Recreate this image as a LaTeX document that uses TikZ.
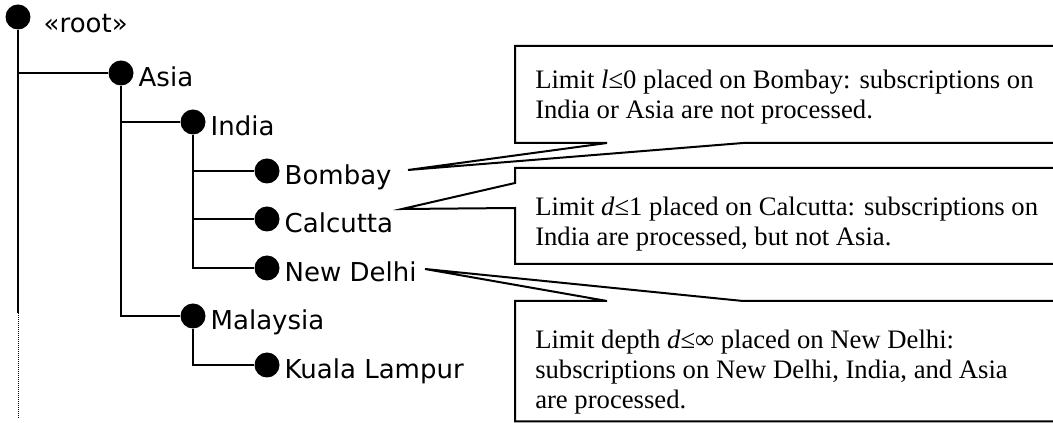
\documentclass[tikz,border=0pt]{standalone}
\usepackage{fontspec}
\setmainfont{Liberation Serif}
\newfontfamily\treefont{DejaVu Sans}
\usepackage{tikz}
\usetikzlibrary{calc}
\tikzset{x=0.75pt, y=-0.75pt}
\tikzset{dot/.style = {circle, fill=black, inner sep=0pt, minimum size=18.75pt}}
\tikzset{placename/.style = {font=\treefont\fontsize{19.5pt}{23pt}\selectfont, anchor=base west, inner sep=3.5pt, yshift=-10pt}}
\tikzset{branch/.style = {line width=1.5pt}}
\tikzset{callout/.style = {draw=black, fill=white, line width=1.5pt, line join=miter}}
\tikzset{note/.style = {font=\fontsize{20pt}{22.5pt}\selectfont, anchor=base west, inner sep=0pt, align=left}}
\newcommand{\geoplace}[4][]{
   \node[dot] (#2) at (#3) {};
   \node[placename, #1] (#2-name) at (#2.east) {#4};
}

\begin{document}
\begin{tikzpicture}
		\useasboundingbox (0,0) rectangle (1053,423);
		\clip (0,0) rectangle (1053,423);

		% Places
		\geoplace[xshift=6pt, yshift=-1.5pt]{root}{18,17}{«root»}
		\geoplace{asia}{121,73}{Asia}
		\geoplace{india}{193,122}{India}
		\geoplace{bombay}{267,171}{Bombay}
		\geoplace{calcutta}{267,219}{Calcutta}
		\geoplace{newdelhi}{267,268}{New Delhi}
		\geoplace{malaysia}{193,316}{Malaysia}
		\geoplace{kuala}{267,365}{Kuala Lampur}

		% Branches
		\coordinate (root-end) at (18,313);
		\coordinate (root-foot) at (18,419);
		\draw[branch] (root) -- (root-end);
		\draw[line width=0.75pt, dash pattern=on 0.75pt off 0.75pt] (root-end) -- (root-foot);
		\foreach \from/\to in {root/asia, asia/india, asia/malaysia, india/bombay, india/calcutta, india/newdelhi, malaysia/kuala}
		{
			\draw[branch] (\from) |- (\to);
		}

		% Callouts
		\coordinate (bombay-tip) at (408,170);
		\coordinate (calcutta-tip) at (402,209);
		\coordinate (newdelhi-tip) at (425,269);
		%
		\draw[callout] (515,46) -- (1065,46) -- (1065,143) -- (743,143) -- (bombay-tip) -- (607,143) -- (515,143) -- cycle;
		\node[note] (limit-bombay) at (535,119) {Limit \textit{l}≤0 placed on Bombay: subscriptions on\\India or Asia are not processed.};
		%
		\draw[callout] (515,168) -- (1065,168) -- (1065,264) -- (515,264) -- (515,208) -- (calcutta-tip) -- (515,183) -- cycle;
		\node[note] (limit-calcutta) at (535,246) {Limit \textit{d}≤1 placed on Calcutta: subscriptions on\\India are processed, but not Asia.};
		%
		\draw[callout] (515,301) -- (607,301) -- (newdelhi-tip) -- (743,301) -- (1065,301) -- (1065,421.5) -- (515,421.5) -- cycle;
		\node[note] (limit-newdelhi) at (535,409) {Limit depth \textit{d}≤∞ placed on New Delhi:\\subscriptions on New Delhi, India, and Asia\\are processed.};
	\end{tikzpicture}
\end{document}
